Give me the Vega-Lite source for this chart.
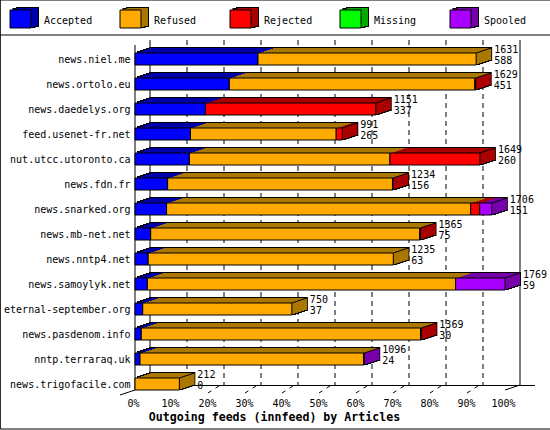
{"$schema":"https://vega.github.io/schema/vega-lite/v6.json","width":370,"height":350,"autosize":"none","padding":{"left":135,"top":40,"right":45,"bottom":40},"background":"white","config":{"view":{"stroke":null},"legend":{"disable":true},"text":{"font":"DejaVu Sans Mono","fontSize":10,"color":"black"}},
"datasets":{"hosts":[{"host":"news.niel.me","total":1631,"accepted":588,"base":0,"status":"Refused"},{"host":"news.ortolo.eu","total":1629,"accepted":451,"base":0,"status":"Rejected"},{"host":"news.daedelys.org","total":1151,"accepted":337,"base":0,"status":"Rejected"},{"host":"feed.usenet-fr.net","total":991,"accepted":265,"base":0,"status":"Rejected"},{"host":"nut.utcc.utoronto.ca","total":1649,"accepted":260,"base":0,"status":"Rejected"},{"host":"news.fdn.fr","total":1234,"accepted":156,"base":0,"status":"Rejected"},{"host":"news.snarked.org","total":1706,"accepted":151,"base":0,"status":"Spooled"},{"host":"news.mb-net.net","total":1365,"accepted":75,"base":0,"status":"Rejected"},{"host":"news.nntp4.net","total":1235,"accepted":63,"base":0,"status":"Refused"},{"host":"news.samoylyk.net","total":1769,"accepted":59,"base":0,"status":"Spooled"},{"host":"eternal-september.org","total":750,"accepted":37,"base":0,"status":"Refused"},{"host":"news.pasdenom.info","total":1369,"accepted":30,"base":0,"status":"Rejected"},{"host":"nntp.terraraq.uk","total":1096,"accepted":24,"base":0,"status":"Spooled"},{"host":"news.trigofacile.com","total":212,"accepted":0,"base":0,"status":"Refused"}],
"segs":[{"host":"news.niel.me","status":"Accepted","start":0,"end":588},{"host":"news.niel.me","status":"Refused","start":588,"end":1631},
{"host":"news.ortolo.eu","status":"Accepted","start":0,"end":451},{"host":"news.ortolo.eu","status":"Refused","start":451,"end":1625},{"host":"news.ortolo.eu","status":"Rejected","start":1625,"end":1629},
{"host":"news.daedelys.org","status":"Accepted","start":0,"end":337},{"host":"news.daedelys.org","status":"Rejected","start":337,"end":1151},
{"host":"feed.usenet-fr.net","status":"Accepted","start":0,"end":265},{"host":"feed.usenet-fr.net","status":"Refused","start":265,"end":962},{"host":"feed.usenet-fr.net","status":"Rejected","start":962,"end":991},
{"host":"nut.utcc.utoronto.ca","status":"Accepted","start":0,"end":260},{"host":"nut.utcc.utoronto.ca","status":"Refused","start":260,"end":1219},{"host":"nut.utcc.utoronto.ca","status":"Rejected","start":1219,"end":1649},
{"host":"news.fdn.fr","status":"Accepted","start":0,"end":156},{"host":"news.fdn.fr","status":"Refused","start":156,"end":1231},{"host":"news.fdn.fr","status":"Rejected","start":1231,"end":1234},
{"host":"news.snarked.org","status":"Accepted","start":0,"end":151},{"host":"news.snarked.org","status":"Refused","start":151,"end":1605},{"host":"news.snarked.org","status":"Rejected","start":1605,"end":1648},{"host":"news.snarked.org","status":"Spooled","start":1648,"end":1706},
{"host":"news.mb-net.net","status":"Accepted","start":0,"end":75},{"host":"news.mb-net.net","status":"Refused","start":75,"end":1361},{"host":"news.mb-net.net","status":"Rejected","start":1361,"end":1365},
{"host":"news.nntp4.net","status":"Accepted","start":0,"end":63},{"host":"news.nntp4.net","status":"Refused","start":63,"end":1235},
{"host":"news.samoylyk.net","status":"Accepted","start":0,"end":59},{"host":"news.samoylyk.net","status":"Refused","start":59,"end":1533},{"host":"news.samoylyk.net","status":"Spooled","start":1533,"end":1769},
{"host":"eternal-september.org","status":"Accepted","start":0,"end":37},{"host":"eternal-september.org","status":"Refused","start":37,"end":750},
{"host":"news.pasdenom.info","status":"Accepted","start":0,"end":30},{"host":"news.pasdenom.info","status":"Refused","start":30,"end":1365},{"host":"news.pasdenom.info","status":"Rejected","start":1365,"end":1369},
{"host":"nntp.terraraq.uk","status":"Accepted","start":0,"end":24},{"host":"nntp.terraraq.uk","status":"Refused","start":24,"end":1093},{"host":"nntp.terraraq.uk","status":"Spooled","start":1093,"end":1096},
{"host":"news.trigofacile.com","status":"Refused","start":0,"end":212}],
"grid":[{"pct":10},{"pct":20},{"pct":30},{"pct":40},{"pct":50},{"pct":60},{"pct":70},{"pct":80},{"pct":90}],
"legend":[{"status":"Accepted","row":"a"},{"status":"Refused","row":"a"},{"status":"Rejected","row":"a"},{"status":"Missing","row":"a"},{"status":"Spooled","row":"a"}]},
"resolve":{"scale":{"x":"independent","y":"independent"}},
"layer":[
{"data":{"name":"grid"},"encoding":{"x":{"field":"pct","type":"quantitative","scale":{"domain":[0,100],"range":[0,370],"nice":false,"zero":false},"axis":{"values":[0,10,20,30,40,50,60,70,80,90,100],"labelExpr":"datum.value+'%'","ticks":false,"domain":false,"grid":false,"labelFont":"DejaVu Sans Mono","labelFontSize":10,"labelColor":"black","labelPadding":8,"labelOffset":-2,"labelFlush":false,"labelOverlap":false,"title":"Outgoing feeds (innfeed) by Articles","titleFont":"DejaVu Sans Mono","titleFontSize":11.6,"titleFontWeight":"bold","titleColor":"black","titleX":139,"titleY":27,"titleAnchor":"middle","titleBaseline":"middle"}},"y":{"datum":40,"type":"quantitative","scale":{"domain":[0,430],"range":[-40,390],"nice":false,"zero":false},"axis":null}},
"layer":[
{"mark":{"type":"rect","fill":null,"stroke":"black","strokeWidth":1},"data":{"values":[{"pct":-36.4,"r":148.6}]},"encoding":{"x2":{"field":"r"},"y":{"datum":0,"type":"quantitative"},"y2":{"datum":429}}},
{"mark":{"type":"rule","stroke":"black"},"data":{"values":[{"pct":-36.4,"r":148.6}]},"encoding":{"x2":{"field":"r"},"y":{"datum":35,"type":"quantitative"}}},
{"mark":{"type":"rule","stroke":"black","strokeDash":[5,4],"xOffset":15,"x2Offset":15},"encoding":{"x2":{"field":"pct"},"y":{"datum":40,"type":"quantitative"},"y2":{"datum":385}}},
{"mark":{"type":"rule","stroke":"black","xOffset":15,"x2Offset":15},"data":{"values":[{"pct":0},{"pct":100}]},"encoding":{"x2":{"field":"pct"},"y":{"datum":40,"type":"quantitative"},"y2":{"datum":385}}},
{"mark":{"type":"rule","stroke":"black"},"data":{"values":[{"pct":0}]},"encoding":{"y":{"datum":45,"type":"quantitative"},"y2":{"datum":390}}},
{"mark":{"type":"rule","stroke":"black","xOffset":15,"x2Offset":30},"data":{"values":[{"pct":0,"e":100}]},"encoding":{"x2":{"field":"e"},"y":{"datum":385.5,"type":"quantitative"}}},
{"mark":{"type":"rule","stroke":"black","strokeDash":[4,5],"xOffset":-1,"x2Offset":10},"transform":[{"filter":"datum.pct>=20"}],"encoding":{"x2":{"field":"pct"},"y":{"datum":393,"type":"quantitative"},"y2":{"datum":386}}},
{"mark":{"type":"rule","stroke":"black","xOffset":-15},"data":{"values":[{"pct":0}]},"encoding":{"x2":{"field":"pct"},"y":{"datum":395,"type":"quantitative"},"y2":{"datum":390}}},
{"mark":{"type":"rule","stroke":"black","x2Offset":15},"data":{"values":[{"pct":100}]},"encoding":{"x2":{"field":"pct"},"y":{"datum":390,"type":"quantitative"},"y2":{"datum":385}}}
]},
{"encoding":{"y":{"field":"host","type":"nominal","sort":null,"scale":{"domain":["news.niel.me","news.ortolo.eu","news.daedelys.org","feed.usenet-fr.net","nut.utcc.utoronto.ca","news.fdn.fr","news.snarked.org","news.mb-net.net","news.nntp4.net","news.samoylyk.net","eternal-september.org","news.pasdenom.info","nntp.terraraq.uk","news.trigofacile.com"],"range":[6.5,356.5],"paddingInner":0,"paddingOuter":0},"axis":{"title":null,"ticks":false,"domain":false,"grid":false,"labelFont":"DejaVu Sans Mono","labelFontSize":10,"labelColor":"black","labelPadding":5,"labelOffset":1}}},
"layer":[
{"data":{"name":"hosts"},"encoding":{"x":{"field":"base","type":"quantitative","scale":{"domain":[0,1769],"range":[0,370],"nice":false,"zero":false},"axis":null},"x2":{"field":"total"}},"layer":[
{"mark":{"type":"bar","size":12,"fill":"black","stroke":"black","strokeWidth":2,"xOffset":15,"x2Offset":15,"yOffset":-5}},
{"mark":{"type":"bar","size":12,"fill":"black","stroke":"black","strokeWidth":2,"xOffset":12,"x2Offset":12,"yOffset":-4}},
{"mark":{"type":"bar","size":12,"fill":"black","stroke":"black","strokeWidth":2,"xOffset":9,"x2Offset":9,"yOffset":-3}},
{"mark":{"type":"bar","size":12,"fill":"black","stroke":"black","strokeWidth":2,"xOffset":6,"x2Offset":6,"yOffset":-2}},
{"mark":{"type":"bar","size":12,"fill":"black","stroke":"black","strokeWidth":2,"xOffset":3,"x2Offset":3,"yOffset":-1}}
]},
{"encoding":{"fill":{"field":"status","type":"nominal","scale":{"domain":["Accepted","Refused","Rejected","Missing","Spooled"],"range":["#0000aa","#aa7700","#aa0000","#00aa00","#7700aa"]}}},"layer":[
{"data":{"name":"segs"},"mark":{"type":"bar","size":12,"xOffset":15,"x2Offset":15,"yOffset":-5},"encoding":{"x":{"field":"start","type":"quantitative","axis":null},"x2":{"field":"end"}}},
{"data":{"name":"hosts"},"mark":{"type":"bar","size":11,"x2Offset":15,"yOffset":-4.5},"encoding":{"x":{"field":"total","type":"quantitative","axis":null},"x2":{"field":"total"}}},
{"data":{"name":"segs"},"mark":{"type":"bar","size":12,"xOffset":12,"x2Offset":12,"yOffset":-4},"encoding":{"x":{"field":"start","type":"quantitative","axis":null},"x2":{"field":"end"}}},
{"data":{"name":"hosts"},"mark":{"type":"bar","size":11,"x2Offset":12,"yOffset":-3.5},"encoding":{"x":{"field":"total","type":"quantitative","axis":null},"x2":{"field":"total"}}},
{"data":{"name":"segs"},"mark":{"type":"bar","size":12,"xOffset":9,"x2Offset":9,"yOffset":-3},"encoding":{"x":{"field":"start","type":"quantitative","axis":null},"x2":{"field":"end"}}},
{"data":{"name":"hosts"},"mark":{"type":"bar","size":11,"x2Offset":9,"yOffset":-2.5},"encoding":{"x":{"field":"total","type":"quantitative","axis":null},"x2":{"field":"total"}}},
{"data":{"name":"segs"},"mark":{"type":"bar","size":12,"xOffset":6,"x2Offset":6,"yOffset":-2},"encoding":{"x":{"field":"start","type":"quantitative","axis":null},"x2":{"field":"end"}}},
{"data":{"name":"hosts"},"mark":{"type":"bar","size":11,"x2Offset":6,"yOffset":-1.5},"encoding":{"x":{"field":"total","type":"quantitative","axis":null},"x2":{"field":"total"}}},
{"data":{"name":"segs"},"mark":{"type":"bar","size":12,"xOffset":3,"x2Offset":3,"yOffset":-1},"encoding":{"x":{"field":"start","type":"quantitative","axis":null},"x2":{"field":"end"}}},
{"data":{"name":"hosts"},"mark":{"type":"bar","size":11,"x2Offset":3,"yOffset":-0.5},"encoding":{"x":{"field":"total","type":"quantitative","axis":null},"x2":{"field":"total"}}}
]},
{"data":{"name":"hosts"},"mark":{"type":"rule","stroke":"black","x2Offset":15,"yOffset":-6,"y2Offset":-11},"encoding":{"x":{"field":"total","type":"quantitative","axis":null},"x2":{"field":"total"},"y2":{"field":"host"}}},
{"data":{"name":"segs"},"mark":{"type":"bar","size":12,"stroke":"black","strokeWidth":1},"encoding":{"x":{"field":"start","type":"quantitative","axis":null},"x2":{"field":"end"},"color":{"field":"status","type":"nominal","scale":{"domain":["Accepted","Refused","Rejected","Missing","Spooled"],"range":["#0000ff","#ffaa00","#ff0000","#00ff00","#aa00ff"]}}}},
{"data":{"name":"hosts"},"encoding":{"x":{"field":"total","type":"quantitative","axis":null}},"layer":[
{"mark":{"type":"text","align":"left","dx":18,"dy":-9},"encoding":{"text":{"field":"total","type":"quantitative","format":"d"}}},
{"mark":{"type":"text","align":"left","dx":18,"dy":2},"encoding":{"text":{"field":"accepted","type":"quantitative","format":"d"}}}
]}
]},
{"data":{"name":"legend"},"encoding":{"x":{"field":"status","type":"nominal","sort":null,"scale":{"domain":["Accepted","Refused","Rejected","Missing","Spooled"],"range":[-135,415],"paddingInner":0,"paddingOuter":0},"axis":null},"y":{"field":"row","type":"nominal","scale":{"domain":["a"],"range":[-30,-12],"paddingInner":0,"paddingOuter":0},"axis":null}},"layer":[
{"mark":{"type":"rect","width":21,"fill":"black","stroke":"black","strokeWidth":2,"xOffset":-27.5,"yOffset":-2,"y2Offset":-2}},
{"mark":{"type":"rect","width":21,"fill":"black","stroke":"black","strokeWidth":2,"xOffset":-31,"yOffset":-1,"y2Offset":-1}},
{"mark":{"type":"rect","width":21,"xOffset":-27.5,"yOffset":-2,"y2Offset":-2},"encoding":{"fill":{"field":"status","type":"nominal"}}},
{"mark":{"type":"rect","width":21,"xOffset":-31,"yOffset":-1,"y2Offset":-1},"encoding":{"fill":{"field":"status","type":"nominal"}}},
{"mark":{"type":"rect","width":21,"stroke":"black","strokeWidth":1,"xOffset":-34.5},"encoding":{"color":{"field":"status","type":"nominal"}}},
{"mark":{"type":"text","align":"left","dx":-11,"dy":2},"encoding":{"text":{"field":"status","type":"nominal"}}}
]}
]}
